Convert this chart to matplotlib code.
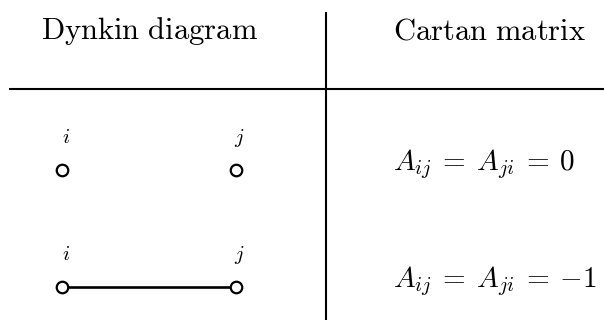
import matplotlib
matplotlib.use('Agg')
import matplotlib.pyplot as plt

plt.rcParams['mathtext.fontset'] = 'cm'

# table content
headers = ['Dynkin diagram', 'Cartan matrix']
bonds = [0, 1]            # number of edges between node i and node j
cartan_vals = ['0', '-1']  # A_ij = A_ji value
node_names = ['i', 'j']

fig = plt.figure(figsize=(6.04, 3.2), dpi=100)
ax = fig.add_axes([0, 0, 1, 1])
ax.set_xlim(0, 604)
ax.set_ylim(320, 0)
ax.axis('off')

# table rules
ax.plot([9, 604], [88.7, 88.7], color='black', lw=1.5, solid_capstyle='butt')
ax.plot([325.7, 325.7], [12, 320], color='black', lw=1.5, solid_capstyle='butt')

# headers
for cx, h in zip([149, 489.5], headers):
    ax.text(cx, 39, r'$\mathrm{' + h.replace(' ', r'\ ') + '}$', fontsize=22,
            ha='center', va='baseline')

row_y = [170, 287]
node_x = [62.3, 235.7]
for k, (nb, val) in enumerate(zip(bonds, cartan_vals)):
    y = row_y[k]
    if nb > 0:
        ax.plot(node_x, [y, y], color='black', lw=1.9, zorder=2)
    ax.plot(node_x, [y, y], linestyle='none', marker='o', ms=8.3,
            mfc='white', mec='black', mew=1.6, zorder=3)
    for x, name in zip(node_x, node_names):
        ax.text(x + 3.4, y - 27, '$' + name + '$', fontsize=15,
                ha='center', va='baseline')
    ax.text(393, y, r'$A_{ij}\:=\:A_{ji}\:=\:{' + val + '}$', fontsize=21,
            ha='left', va='baseline')

plt.savefig('out.png', dpi=100)
